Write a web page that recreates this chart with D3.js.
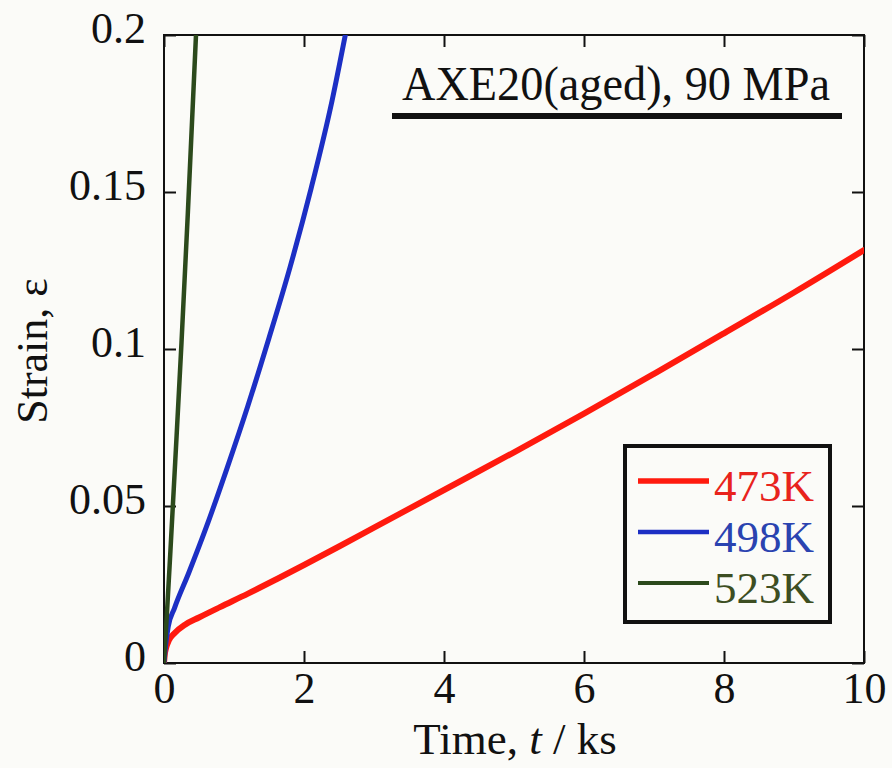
<!DOCTYPE html>
<html><head><meta charset="utf-8">
<script src="https://cdn.jsdelivr.net/npm/d3@7"></script>
<style>html,body{margin:0;padding:0;background:#fbfbf8;}svg{display:block;}</style>
</head><body>
<script>
// ---- data ----
const xTicks = [0, 2, 4, 6, 8, 10];
const yTicks = [0, 0.05, 0.1, 0.15, 0.2];
const yTickLabels = ["0", "0.05", "0.1", "0.15", "0.2"];
const seriesNames = ["473K", "498K", "523K"];

const t473 = [0, 0.01, 0.03, 0.07, 0.15, 0.3, 0.5, 0.8, 1.2, 1.6, 2.0, 2.5, 3, 4, 5, 6, 7, 8, 9, 10];
const s473 = [0, 0.0025, 0.0048, 0.0072, 0.0095, 0.0122, 0.0145, 0.0178, 0.0221, 0.0266, 0.0312, 0.0371, 0.0431, 0.0551, 0.0671, 0.0794, 0.0921, 0.105, 0.118, 0.1315];

const t498 = [0, 0.02, 0.06, 0.15, 0.35, 0.6, 0.9, 1.2, 1.5, 1.8, 2.1, 2.4, 2.59];
const s498 = [0, 0.005, 0.0115, 0.0175, 0.0285, 0.043, 0.062, 0.082, 0.1035, 0.126, 0.151, 0.179, 0.2];

const t523 = [0, 0.01, 0.04, 0.09, 0.16, 0.25, 0.34, 0.457];
const s523 = [0, 0.004, 0.015, 0.035, 0.064, 0.102, 0.143, 0.2];

const W = 892, H = 768;
const m = {left: 164, right: 864, top: 35, bottom: 663};
const font = "'Liberation Serif','Times New Roman',serif";

const svg = d3.select("body").append("svg").attr("width", W).attr("height", H)
  .style("background", "#fbfbf8");

const x = d3.scaleLinear().domain([0, 10]).range([m.left, m.right]);
const y = d3.scaleLinear().domain([0, 0.2]).range([m.bottom, m.top]);

svg.append("defs").append("clipPath").attr("id", "clip")
  .append("rect").attr("x", m.left).attr("y", m.top)
  .attr("width", m.right - m.left).attr("height", m.bottom - m.top);

const tickLen = 12;
// axes (inward ticks) on all four sides
const axB = svg.append("g").attr("transform", `translate(0,${m.bottom})`)
  .call(d3.axisBottom(x).tickValues(xTicks).tickSizeInner(-tickLen).tickSizeOuter(0).tickFormat(d3.format("d")).tickPadding(8));
const axT = svg.append("g").attr("transform", `translate(0,${m.top})`)
  .call(d3.axisTop(x).tickValues(xTicks).tickSizeInner(-tickLen).tickSizeOuter(0).tickFormat(""));
const axL = svg.append("g").attr("transform", `translate(${m.left},0)`)
  .call(d3.axisLeft(y).tickValues(yTicks).tickSizeInner(-tickLen).tickSizeOuter(0)
    .tickFormat((d, i) => yTickLabels[i]).tickPadding(18));
const axR = svg.append("g").attr("transform", `translate(${m.right},0)`)
  .call(d3.axisRight(y).tickValues(yTicks).tickSizeInner(-tickLen).tickSizeOuter(0).tickFormat(""));

[axB, axT, axL, axR].forEach(g => {
  g.select(".domain").remove();
  g.selectAll(".tick line").attr("stroke", "#111").attr("stroke-width", 2);
  g.selectAll("text").attr("font-family", font).attr("font-size", 44).attr("fill", "#111");
});
axB.selectAll("text").attr("dy", "0.72em");
axL.selectAll("text").attr("dy", "0.18em");

// frame
svg.append("rect").attr("x", m.left).attr("y", m.top)
  .attr("width", m.right - m.left).attr("height", m.bottom - m.top)
  .attr("fill", "none").attr("stroke", "#111").attr("stroke-width", 2);

// curves
const line = d3.line().x(d => x(d[0])).y(d => y(d[1])).curve(d3.curveMonotoneX);
const series = [
  {name: seriesNames[0], t: t473, s: s473, color: "#ff1a0e", w: 6},
  {name: seriesNames[1], t: t498, s: s498, color: "#1c2fc4", w: 5},
  {name: seriesNames[2], t: t523, s: s523, color: "#2c4a1c", w: 4.5}
];
const textColors = ["#e8231c", "#2a43b0", "#3d4e22"];
const gC = svg.append("g").attr("clip-path", "url(#clip)");
series.forEach(sr => {
  gC.append("path").datum(sr.t.map((v, i) => [v, sr.s[i]]))
    .attr("d", line).attr("fill", "none").attr("stroke", sr.color)
    .attr("stroke-width", sr.w).attr("stroke-linejoin", "round").attr("stroke-linecap", "round");
});

// title with underline
svg.append("text").attr("x", 402).attr("y", 100)
  .attr("font-family", font).attr("font-size", 49).attr("fill", "#111")
  .attr("textLength", 428).attr("lengthAdjust", "spacingAndGlyphs")
  .text("AXE20(aged), 90 MPa");
svg.append("line").attr("x1", 392).attr("x2", 842).attr("y1", 116).attr("y2", 116)
  .attr("stroke", "#111").attr("stroke-width", 6);

// legend
const lg = svg.append("g");
lg.append("rect").attr("x", 625).attr("y", 446).attr("width", 205).attr("height", 176)
  .attr("fill", "#fbfbf8").attr("stroke", "#111").attr("stroke-width", 4);
series.forEach((sr, i) => {
  const yy = 481 + i * 51;
  lg.append("line").attr("x1", 638).attr("x2", 709).attr("y1", yy).attr("y2", yy)
    .attr("stroke", sr.color).attr("stroke-width", sr.w - 0.5);
  lg.append("text").attr("x", 714).attr("y", yy + 20)
    .attr("font-family", font).attr("font-size", 45).attr("fill", textColors[i])
    .text(sr.name);
});

// axis labels
const xl = svg.append("text").attr("x", 515).attr("y", 754).attr("text-anchor", "middle")
  .attr("font-family", font).attr("font-size", 45).attr("fill", "#111");
xl.append("tspan").text("Time, ");
xl.append("tspan").attr("font-style", "italic").text("t");
xl.append("tspan").text(" / ks");

svg.append("text").attr("transform", "translate(47,351) rotate(-90)").attr("text-anchor", "middle")
  .attr("font-family", font).attr("font-size", 44).attr("fill", "#111")
  .text("Strain, ε");
</script>
</body></html>
